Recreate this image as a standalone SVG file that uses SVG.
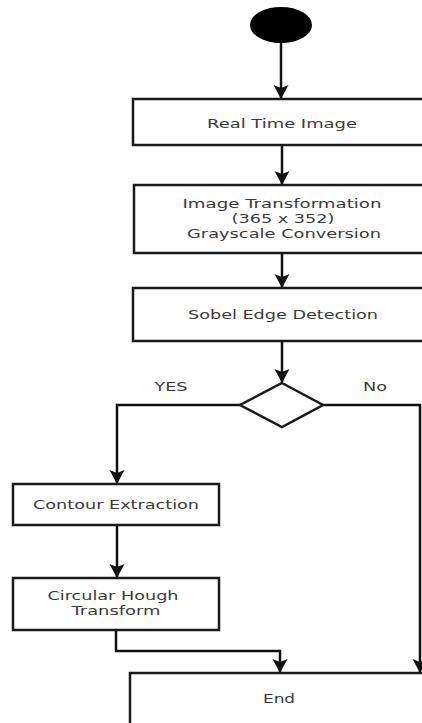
<svg xmlns="http://www.w3.org/2000/svg" width="422" height="723" viewBox="0 0 422 723">
<style>
.box{fill:#fff;stroke:#1a1a1a;stroke-width:2.5}
.lbl{font-family:"DejaVu Sans",Verdana,sans-serif;font-size:13px;fill:#3a3a3a;text-anchor:middle}
.edge{fill:none;stroke:#111;stroke-width:2.5}
</style>
<defs>
<marker id="arr" markerUnits="userSpaceOnUse" markerWidth="16" markerHeight="16" viewBox="0 0 16 16" refX="14" refY="8" orient="auto">
<path d="M1,0.5 L15,8 L1,15.5 L4,8 z" fill="#111"/>
</marker>
</defs>
<rect width="422" height="723" fill="#fff"/>
<g id="connectors">
<path class="edge" d="M281,43 V98" marker-end="url(#arr)"/>
<path class="edge" d="M282,145 V184" marker-end="url(#arr)"/>
<path class="edge" d="M282,253 V287" marker-end="url(#arr)"/>
<path class="edge" d="M282,341 V382" marker-end="url(#arr)"/>
<path class="edge" d="M240,405 H117 V483" marker-end="url(#arr)"/>
<path class="edge" d="M323,405 H420 V672" marker-end="url(#arr)"/>
<path class="edge" d="M117,525 V577" marker-end="url(#arr)"/>
<path class="edge" d="M116,630 V651 H280 V672" marker-end="url(#arr)"/>
</g>
<g id="start"><ellipse cx="281" cy="25" rx="31" ry="18" fill="#000"/></g>
<g id="real-time-image">
<rect class="box" x="133" y="99" width="298" height="46"/>
<text class="lbl" x="282" y="128" textLength="150" lengthAdjust="spacingAndGlyphs">Real Time Image</text>
</g>
<g id="image-transformation">
<rect class="box" x="134" y="185" width="297" height="68"/>
<text class="lbl" x="282" y="208" textLength="199" lengthAdjust="spacingAndGlyphs">Image Transformation</text>
<text class="lbl" x="283" y="223" textLength="103" lengthAdjust="spacingAndGlyphs">(365 x 352)</text>
<text class="lbl" x="284" y="238" textLength="194" lengthAdjust="spacingAndGlyphs">Grayscale Conversion</text>
</g>
<g id="sobel">
<rect class="box" x="133" y="288" width="298" height="53"/>
<text class="lbl" x="283" y="319" textLength="190" lengthAdjust="spacingAndGlyphs">Sobel Edge Detection</text>
</g>
<g id="decision">
<polygon class="box" points="282,383 323,405 282,427 240,405"/>
<text class="lbl" x="171" y="391" textLength="33" lengthAdjust="spacingAndGlyphs">YES</text>
<text class="lbl" x="375" y="391" textLength="24" lengthAdjust="spacingAndGlyphs">No</text>
</g>
<g id="contour">
<rect class="box" x="13" y="484" width="206" height="41"/>
<text class="lbl" x="116" y="509" textLength="166" lengthAdjust="spacingAndGlyphs">Contour Extraction</text>
</g>
<g id="hough">
<rect class="box" x="13" y="578" width="206" height="52"/>
<text class="lbl" x="113" y="600" textLength="131" lengthAdjust="spacingAndGlyphs">Circular Hough</text>
<text class="lbl" x="116" y="615" textLength="89" lengthAdjust="spacingAndGlyphs">Transform</text>
</g>
<g id="end">
<rect class="box" x="130" y="673" width="300" height="62"/>
<text class="lbl" x="279" y="703" textLength="32" lengthAdjust="spacingAndGlyphs">End</text>
</g>
</svg>
